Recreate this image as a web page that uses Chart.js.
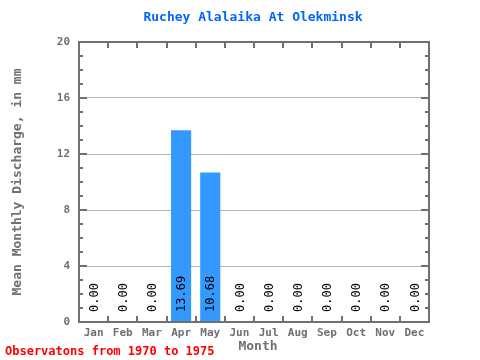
<!DOCTYPE html>
<html><head><meta charset="utf-8">
<script src="https://cdn.jsdelivr.net/npm/chart.js@4"></script>
<style>html,body{margin:0;padding:0;background:#fff}#wrap{width:480px;height:360px}</style>
</head><body><div id="wrap"><canvas id="c" width="480" height="360"></canvas></div>
<script>
const months = ["Jan","Feb","Mar","Apr","May","Jun","Jul","Aug","Sep","Oct","Nov","Dec"];
const discharge = [0,0,0,13.69,10.68,0,0,0,0,0,0,0];
const yTicks = [0,4,8,12,16,20];
const titleText = "Ruchey Alalaika At Olekminsk";
const footerText = "Observatons from 1970 to 1975";
const xTitle = "Month";
const yTitle = "Mean Monthly Discharge, in mm";

const gray = "#707070";
const deco = {
  id: 'deco',
  afterDatasetsDraw(chart) {
    const ctx = chart.ctx, a = chart.chartArea, xs = chart.scales.x, ys = chart.scales.y;
    ctx.save();
    const meta = chart.getDatasetMeta(0);
    ctx.font = "12px 'DejaVu Sans Mono', monospace";
    ctx.fillStyle = "#000";
    ctx.textAlign = "left"; ctx.textBaseline = "middle";
    meta.data.forEach((el, i) => {
      ctx.save();
      ctx.translate(el.x + 1, a.bottom - 10);
      ctx.rotate(-Math.PI/2);
      ctx.fillText(discharge[i].toFixed(2), 0, 0);
      ctx.restore();
    });
    ctx.strokeStyle = gray; ctx.lineWidth = 2;
    ctx.strokeRect(a.left, a.top, a.right - a.left, a.bottom - a.top);
    ctx.beginPath();
    for (let v = 1; v < 20; v++) {
      const y = Math.round(ys.getPixelForValue(v));
      const len = (v % 4 === 0) ? 8 : 4;
      ctx.moveTo(a.left, y); ctx.lineTo(a.left + len, y);
      ctx.moveTo(a.right, y); ctx.lineTo(a.right - len, y);
    }
    for (let i = 1; i < months.length; i++) {
      const x = Math.round((xs.getPixelForValue(i-1) + xs.getPixelForValue(i)) / 2);
      ctx.moveTo(x, a.top); ctx.lineTo(x, a.top + 6);
      ctx.moveTo(x, a.bottom); ctx.lineTo(x, a.bottom - 6);
    }
    ctx.stroke();
    ctx.textAlign = "center"; ctx.textBaseline = "middle";
    ctx.fillStyle = "#0066ff";
    ctx.font = "bold 13px 'DejaVu Sans Mono', monospace";
    ctx.fillText(titleText, 253, 18);
    ctx.fillStyle = gray;
    ctx.font = "bold 13px 'DejaVu Sans Mono', monospace";
    ctx.fillText(xTitle, 258, 347);
    ctx.save();
    ctx.translate(18, 182);
    ctx.rotate(-Math.PI/2);
    ctx.fillText(yTitle, 0, 0);
    ctx.restore();
    ctx.fillStyle = "#ff0000";
    ctx.textAlign = "left";
    ctx.font = "bold 12px 'DejaVu Sans Mono', monospace";
    ctx.fillText(footerText, 5, 352);
    ctx.restore();
  }
};

new Chart(document.getElementById('c'), {
  type: 'bar',
  data: { labels: months, datasets: [{ data: discharge, backgroundColor: "#3399ff", borderWidth: 0,
    categoryPercentage: 1.0, barPercentage: 0.69 }] },
  options: {
    responsive: false, animation: false,
    layout: { padding: { top: 42, right: 51, left: 0, bottom: 0 } },
    plugins: { legend: { display: false }, tooltip: { enabled: false }, title: { display: false } },
    scales: {
      x: {
        afterFit(s) { s.height = 38; },
        grid: { display: false, drawTicks: false },
        border: { display: false },
        ticks: { color: gray, font: { family: "'DejaVu Sans Mono', monospace", weight: 'bold', size: 11 }, padding: 5, maxRotation: 0 }
      },
      y: {
        min: 0, max: 20,
        afterFit(s) { s.width = 79; },
        afterBuildTicks(s) { s.ticks = yTicks.map(v => ({ value: v })); },
        grid: { drawTicks: false, color: ctx => (ctx.tick && (ctx.tick.value === 0 || ctx.tick.value === 20)) ? 'rgba(0,0,0,0)' : '#b4b4b4', lineWidth: 1 },
        border: { display: false },
        ticks: { color: gray, font: { family: "'DejaVu Sans Mono', monospace", weight: 'bold', size: 11 }, padding: 9 }
      }
    }
  },
  plugins: [deco]
});
</script></body></html>
